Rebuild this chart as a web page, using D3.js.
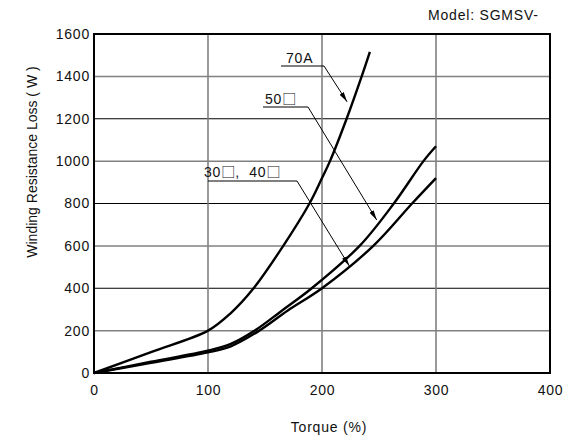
<!DOCTYPE html>
<html>
<head>
<meta charset="utf-8">
<script src="https://cdn.jsdelivr.net/npm/d3@7"></script>
<style>
  html, body { margin: 0; padding: 0; background: #fff; }
  svg text { font-family: "Liberation Sans", Arial, "DejaVu Sans", sans-serif; fill: #111; }
  .sq { font-family: "Noto Sans CJK JP", "DejaVu Sans", sans-serif; }
</style>
</head>
<body>
<svg id="chart" width="582" height="438"></svg>
<script>
// ---- data ----
const xTicks = [0, 100, 200, 300, 400];
const yTicks = [0, 200, 400, 600, 800, 1000, 1200, 1400, 1600];

const torque70A = [0, 50, 100, 120, 140, 166, 189, 200, 207, 221.6, 234.8, 242];
const loss70A   = [0, 99, 200, 283, 400, 600, 800, 920, 1000, 1200, 1400, 1516];

const torque50 = [0, 50, 100, 120, 141, 165, 191, 233, 263, 289, 300];
const loss50   = [0, 53, 105, 137, 200, 295, 400, 600, 800, 1000, 1070];

const torque3040 = [0, 50, 100, 120, 145, 170, 200, 245, 279, 300];
const loss3040   = [0, 48, 97, 126, 200, 295, 400, 600, 800, 920];

// label parts: [text, isSquare]
const labels = [
  [["70A", false]],
  [["50", false], ["□", true]],
  [["30", false], ["□", true], [",\u00a0\u00a040", false], ["□", true]]
];
const xTitle = "Torque (%)";
const yTitle = "Winding Resistance Loss ( W )";
const modelText = "Model: SGMSV-";

// ---- chart ----
const svg = d3.select("#chart");
const x = d3.scaleLinear().domain([0, 400]).range([94, 550]);
const y = d3.scaleLinear().domain([0, 1600]).range([373, 34]);

// grid lines
svg.append("g").selectAll("line").data(yTicks.filter(d => d > 0 && d < 1600)).join("line")
  .attr("x1", x(0)).attr("x2", x(400))
  .attr("y1", d => y(d)).attr("y2", d => y(d))
  .attr("stroke", d => (d % 400 === 0) ? "#000" : "#808080")
  .attr("stroke-width", d => (d % 400 === 0) ? 1 : 1.5);
svg.append("g").selectAll("line").data(xTicks.filter(d => d > 0 && d < 400)).join("line")
  .attr("x1", d => x(d)).attr("x2", d => x(d))
  .attr("y1", y(0)).attr("y2", y(1600))
  .attr("stroke", "#808080")
  .attr("stroke-width", 1.6);

// axes (labels only)
const yAxis = svg.append("g").attr("transform", `translate(${x(0)},0)`)
  .call(d3.axisLeft(y).tickValues(yTicks).tickFormat(d3.format("d")).tickSize(0).tickPadding(4));
yAxis.select(".domain").remove();
yAxis.selectAll("text").style("font-size", "14px").style("letter-spacing", "0.8px")
  .attr("font-family", null);

const xAxis = svg.append("g").attr("transform", `translate(0,${y(0)})`)
  .call(d3.axisBottom(x).tickValues(xTicks).tickFormat(d3.format("d")).tickSize(0).tickPadding(12));
xAxis.select(".domain").remove();
xAxis.selectAll("text").style("font-size", "14px").style("letter-spacing", "0.8px")
  .attr("font-family", null);

// frame
svg.append("rect")
  .attr("x", x(0)).attr("y", y(1600))
  .attr("width", x(400) - x(0)).attr("height", y(0) - y(1600))
  .attr("fill", "none").attr("stroke", "#000").attr("stroke-width", 2);

// curves
const line = d3.line().x(d => x(d[0])).y(d => y(d[1])).curve(d3.curveCatmullRom.alpha(0.5));
const series = [
  d3.zip(torque70A, loss70A),
  d3.zip(torque50, loss50),
  d3.zip(torque3040, loss3040)
];
svg.append("g").selectAll("path").data(series).join("path")
  .attr("d", line)
  .attr("fill", "none").attr("stroke", "#000").attr("stroke-width", 2.4);

// arrow marker
svg.append("defs").append("marker")
  .attr("id", "arr").attr("viewBox", "0 0 10 10")
  .attr("refX", 10).attr("refY", 5)
  .attr("markerWidth", 10).attr("markerHeight", 10)
  .attr("markerUnits", "userSpaceOnUse")
  .attr("orient", "auto")
  .append("path").attr("d", "M0,2.6 L10,5 L0,7.4 Z").attr("fill", "#000");

// annotations
const annTextX = [286, 265, 204];
const annTextY = [63, 104, 177];
const annLineStart = [281, 263, 208];
const annLineEnd = [324, 308, 297];
const annLineY = [66, 107, 181];
const annTargetT = [222, 248, 224];
const annTargetL = [1280, 722, 505];

labels.forEach((parts, i) => {
  const t = svg.append("text").attr("x", annTextX[i]).attr("y", annTextY[i])
    .style("font-size", "14px").style("letter-spacing", "0.8px");
  parts.forEach(([s, isSq]) => {
    const sp = t.append("tspan").text(s);
    if (isSq) sp.attr("class", "sq").style("font-size", "14px").style("letter-spacing", "0px");
  });
  svg.append("line")
    .attr("x1", annLineStart[i]).attr("x2", annLineEnd[i])
    .attr("y1", annLineY[i]).attr("y2", annLineY[i])
    .attr("stroke", "#000").attr("stroke-width", 1);
  svg.append("line")
    .attr("x1", annLineEnd[i]).attr("y1", annLineY[i])
    .attr("x2", x(annTargetT[i])).attr("y2", y(annTargetL[i]))
    .attr("stroke", "#000").attr("stroke-width", 1)
    .attr("marker-end", "url(#arr)");
});

// titles
svg.append("text").attr("x", 329).attr("y", 432).attr("text-anchor", "middle")
  .style("font-size", "14px").style("letter-spacing", "0.8px").text(xTitle);
svg.append("text").attr("transform", "translate(32,162) rotate(-90)")
  .attr("text-anchor", "middle").attr("dy", "0.35em")
  .style("font-size", "14px").text(yTitle);
svg.append("text").attr("x", 428).attr("y", 20)
  .style("font-size", "14px").style("letter-spacing", "0.8px").text(modelText);
</script>
</body>
</html>
